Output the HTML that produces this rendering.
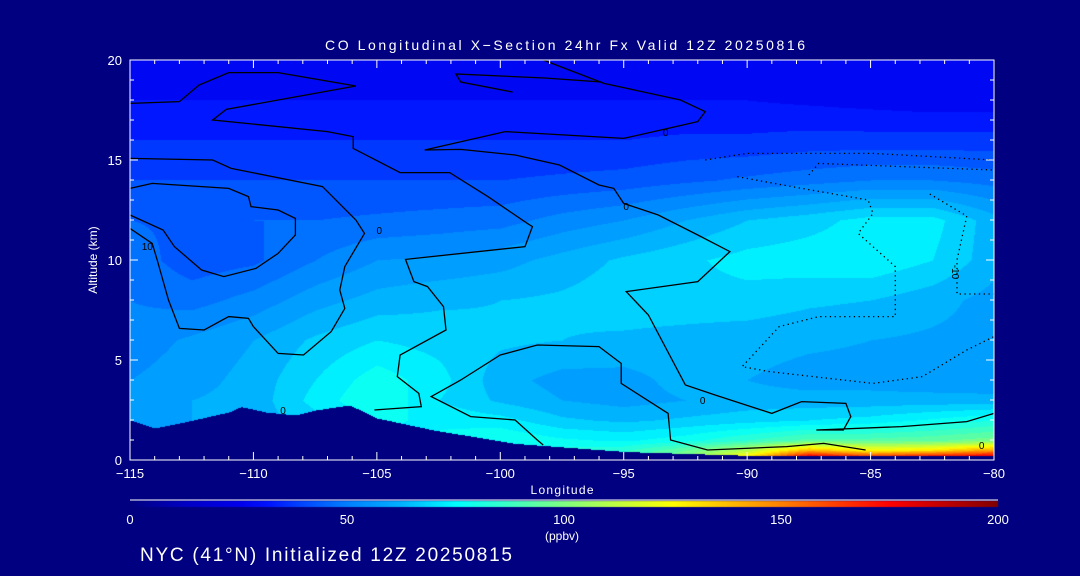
<!DOCTYPE html>
<html><head><meta charset="utf-8">
<style>
html,body{margin:0;padding:0;background:#000080;}
#wrap{position:relative;width:1080px;height:576px;background:#000080;overflow:hidden;font-family:"Liberation Sans",sans-serif;color:#fff;}
canvas,svg{position:absolute;left:0;top:0;}
</style></head>
<body>
<div id="wrap">
<canvas id="cv" width="1080" height="576"></canvas>
<svg id="sv" width="1080" height="576"></svg>
</div>
<script>
// ---- data ----
const lons = [-115,-112.5,-110,-107.5,-105,-102.5,-100,-97.5,-95,-92.5,-90,-87.5,-85,-82.5,-80];
const alts = [0.15,0.5,1,2,3,4,6,8,10,12,14,16,18,20];
const coValues = [
 [60,60,60,66,70,74,78,85,88,100,130,185,170,180,185],
 [60,60,60,66,70,74,76,82,84,95,110,140,125,130,145],
 [60,60,62,66,72,76,80,76,74,78,85,92,92,94,98],
 [58,60,62,68,76,74,72,66,64,66,68,70,72,76,80],
 [55,60,62,72,80,70,64,60,58,60,62,62,62,62,62],
 [55,58,62,70,78,72,62,58,58,62,60,58,58,57,56],
 [52,56,60,66,70,68,66,65,64,63,62,61,60,59,58],
 [50,48,52,58,62,64,65,66,68,68,68,66,65,62,58],
 [48,42,44,50,55,56,58,62,66,69,72,73,74,70,62],
 [45,44,45,45,46,47,48,52,55,60,65,68,72,72,62],
 [40,40,40,40,40,40,40,41,42,44,46,48,50,50,48],
 [35,35,35,35,35,35,35,35,35,36,36,37,37,37,37],
 [30,30,30,30,30,30,30,30,30,30,30,29,28,27,27],
 [27,27,27,27,27,27,27,27,27,27,27,27,27,27,27]
];
const terrLon = [-115,-114,-112.8,-111,-110.5,-109.5,-108.3,-107.5,-106.1,-105,-102.7,-99.4,-94.9,-90.4,-80];
const terrAlt = [2.0,1.6,1.9,2.4,2.67,2.4,2.25,2.5,2.75,2.1,1.5,0.83,0.42,0.25,0.2];
const contourA = [[-98.26,20],[-95.8,18.83],[-92.7,18],[-91.7,17.42],[-92,16.92],[-93.2,16.58],[-95,16.08],[-99.8,16.42],[-103.06,15.5],[-101.6,15.53],[-99.4,15.25],[-97.6,14.75],[-96,13.75],[-95.4,13.58],[-95,12.83],[-93.6,12.25],[-92,11.25],[-90.7,10.42],[-92,8.92],[-94.9,8.42],[-94,7.25],[-92.5,3.75],[-91.3,3.25],[-89,2.33],[-87.8,2.92],[-86,2.83],[-85.8,2.17],[-86.1,1.5],[-87.2,1.5],[-83.75,1.67],[-81.1,1.92],[-80,2.33]];
const contourC = [[-115,17.83],[-113,17.92],[-112.2,18.75],[-111,19.37],[-109,19.37],[-105.85,18.7],[-111.1,17.53],[-111.65,17],[-107,16.42],[-105.96,16.17],[-105.96,15.58],[-104.06,14.37],[-102.05,14.37],[-100.5,13.17],[-98.9,11.83],[-98.7,11.67],[-99,10.67],[-103.84,10.03],[-103.5,8.92],[-102.95,8.67],[-102.3,7.67],[-102.2,6.5],[-104.06,5.25],[-104.17,4.17],[-103.3,3.33],[-103.2,2.67],[-105.1,2.5]];
const contourD = [[-115,15.08],[-111.65,15],[-110.9,14.58],[-107.2,13.67],[-105.85,12],[-105.5,11.33],[-106.3,9.67],[-106.5,8.5],[-106.3,7.58],[-106.85,6.42],[-107.97,5.25],[-109,5.33],[-110,6.67],[-110.2,7.08],[-111,7.17],[-112,6.5],[-113,6.58],[-113.44,8],[-113.9,10],[-114.1,10.83],[-115,11.58]];
const contourE = [[-115,13.58],[-114.1,13.83],[-111,13.58],[-110.2,13.17],[-110.1,12.67],[-109,12.5],[-108.3,12.08],[-108.3,11.25],[-109,10.33],[-109.9,9.58],[-111.2,9.17],[-112.1,9.5],[-113.2,10.67],[-113.66,11.5],[-115,12.25]];
const contourF = [[-98.26,0.75],[-98.5,1],[-99.4,2],[-101.2,2.17],[-102.8,3.17],[-101.6,4],[-100,5.25],[-98.5,5.75],[-96,5.67],[-95.1,4.83],[-95.1,3.83],[-93.2,2.33],[-93.1,1],[-91.6,0.5],[-88.4,0.67],[-86.9,0.83],[-85.2,0.5]];
const contourG = [[-99.5,18.4],[-101.6,18.9],[-101.8,19.3],[-98.2,19.1],[-95.9,18.9]];
const dotted1 = [[-91.7,15],[-90,15.33],[-84.9,15.33],[-80,15]];
const dotted2 = [[-87.5,14.25],[-87.1,14.83],[-83.75,14.67],[-80,14.5]];
const dotted3 = [[-90.4,14.17],[-88.2,13.67],[-85.1,13],[-84.9,12.33],[-85.5,11.33],[-84,9.67],[-84,7.17],[-87.1,7.17],[-88.7,6.67],[-90.2,4.67],[-89.1,4.42],[-84.9,3.83],[-82.9,4.17],[-81.1,5.5],[-80,6.17]];
const dotted4 = [[-82.6,13.3],[-81.1,12.2],[-81.5,10],[-81.5,8.3],[-80,8.3]];
const xTicks = [-115,-110,-105,-100,-95,-90,-85,-80];
const yTicks = [0,5,10,15,20];
const cbTicks = [0,50,100,150,200];

// ---- axes ----
const PX0=130, PX1=994, PY0=60, PY1=460;
const xs = l => PX0 + (l+115)/35*(PX1-PX0);
const ys = a => PY1 - a/20*(PY1-PY0);
const stops=[[0,[0,0,128]],[12,[0,0,192]],[25,[0,0,235]],[32,[0,20,255]],[40,[0,72,255]],[50,[0,128,255]],[62,[0,176,255]],[75,[0,255,255]],[88,[64,255,192]],[100,[128,255,128]],[112,[192,255,64]],[125,[255,255,0]],[137,[255,192,0]],[150,[255,128,0]],[162,[255,64,0]],[175,[255,0,0]],[200,[128,0,0]]];
function cmap(v){v=Math.max(0,Math.min(200,v));for(let i=1;i<stops.length;i++){if(v<=stops[i][0]){const a=stops[i-1],b=stops[i],t=(v-a[0])/(b[0]-a[0]);return a[1].map((c,k)=>Math.round(c+(b[1][k]-c)*t));}}return stops[stops.length-1][1];}
function interp1(xa,ya,x){if(x<=xa[0])return ya[0];for(let i=1;i<xa.length;i++)if(x<=xa[i]){const t=(x-xa[i-1])/(xa[i]-xa[i-1]);return ya[i-1]+(ya[i]-ya[i-1])*t;}return ya[ya.length-1];}
function field(lon,alt){
  let j=0;while(j<lons.length-2&&lon>lons[j+1])j++;
  let i=0;while(i<alts.length-2&&alt>alts[i+1])i++;
  const tx=Math.max(0,Math.min(1,(lon-lons[j])/(lons[j+1]-lons[j])));
  const ty=Math.max(0,Math.min(1,(alt-alts[i])/(alts[i+1]-alts[i])));
  const a=coValues[i][j],b=coValues[i][j+1],c=coValues[i+1][j],d=coValues[i+1][j+1];
  return (a*(1-tx)+b*tx)*(1-ty)+(c*(1-tx)+d*tx)*ty;
}
const cv=document.getElementById('cv'),ctx=cv.getContext('2d');
const img=ctx.createImageData(PX1-PX0,PY1-PY0);
for(let py=0;py<PY1-PY0;py++){for(let px=0;px<PX1-PX0;px++){
  const lon=-115+px/(PX1-PX0)*35, alt=(PY1-PY0-py)/(PY1-PY0)*20;
  const ter=interp1(terrLon,terrAlt,lon);
  let col;
  if(alt<ter) col=[0,0,128];
  else {let v=field(lon,alt);v=Math.floor(v/5)*5+2.5;col=cmap(v);}
  const k=(py*(PX1-PX0)+px)*4;img.data[k]=col[0];img.data[k+1]=col[1];img.data[k+2]=col[2];img.data[k+3]=255;}}
ctx.putImageData(img,PX0,PY0);
for(let x=130;x<998;x++){const c=cmap((x-130)/868*200);ctx.fillStyle=`rgb(${c})`;ctx.fillRect(x,501,1,6);}

const NS='http://www.w3.org/2000/svg',sv=document.getElementById('sv');
function mk(tag,attrs,parent){const e=document.createElementNS(NS,tag);for(const k in attrs)e.setAttribute(k,attrs[k]);(parent||sv).appendChild(e);return e;}
function txt(s,x,y,size,anchor,name,extra){const t=mk('text',Object.assign({x:x,y:y,'font-size':size,'text-anchor':anchor||'middle',fill:'#fff','font-family':'Liberation Sans, sans-serif'},extra||{}));t.textContent=s;


return t;}
function line(pts,name,dash){const p=mk('polyline',{points:pts.map(q=>xs(q[0]).toFixed(1)+','+ys(q[1]).toFixed(1)).join(' '),fill:'none',stroke:'#000','stroke-width':1.3});if(dash)p.setAttribute('stroke-dasharray','1.3,3.5');

}
line(contourA,'contour-zero-center');
line(contourC,'contour-zero-west');
line(contourD,'contour-west-outer');
line(contourE,'contour-loop-west');
line(contourF,'contour-lower-center');
line(contourG,'contour-top-loop');
line(dotted1,'contour-negative-1',true);
line(dotted2,'contour-negative-2',true);
line(dotted3,'contour-negative-3',true);
line(dotted4,'contour-negative-4',true);
const lbl={fill:'#000'};
txt('0',xs(-93.3),ys(16.4)+4,10,'middle','contour-label',lbl);
txt('0',xs(-94.9),ys(12.7)+4,10,'middle','contour-label',lbl);
txt('0',xs(-104.9),ys(11.5)+4,10,'middle','contour-label',lbl);
txt('0',xs(-91.8),ys(3)+4,10,'middle','contour-label',lbl);
txt('0',xs(-108.8),ys(2.5)+4,10,'middle','contour-label',lbl);
txt('10',xs(-114.3),ys(10.7)+4,10,'middle','contour-label',lbl);
txt('-10',xs(-81.7),ys(9.4),10,'middle','contour-label',Object.assign({transform:`rotate(90 ${xs(-81.7)} ${ys(9.4)})`},lbl));
txt('0',xs(-80.5),ys(0.75)+4,10,'middle','contour-label',lbl);

const fr=mk('rect',{x:PX0,y:PY0,width:PX1-PX0,height:PY1-PY0,fill:'none',stroke:'#fff','stroke-width':1});


for(let l=-115;l<=-80;l++){const maj=(l%5===0);const x=xs(l);
  mk('line',{x1:x,x2:x,y1:PY1,y2:PY1-(maj?8:4),stroke:'#fff'});
  mk('line',{x1:x,x2:x,y1:PY0,y2:PY0+(maj?8:4),stroke:'#fff'});}
for(let a=0;a<=20;a++){const maj=(a%5===0);const y=ys(a);
  mk('line',{x1:PX0,x2:PX0+(maj?8:4),y1:y,y2:y,stroke:'#fff'});
  mk('line',{x1:PX1,x2:PX1-(maj?8:4),y1:y,y2:y,stroke:'#fff'});}
xTicks.forEach(v=>txt(String(v).replace('-','\u2212'),xs(v),478,13,'middle','x-tick-label'));
yTicks.forEach(v=>txt(String(v),122,ys(v)+5,13,'end','y-tick-label'));
txt('Longitude',562,494,12,'middle','x-axis-title',{textLength:63});
txt('Altitude (km)',97,260,12,'middle','y-axis-title',{transform:'rotate(-90 97 260)'});
txt('CO Longitudinal X\u2212Section 24hr  Fx Valid 12Z 20250816',565,50,14,'middle','chart-title',{textLength:480,lengthAdjust:'spacing'});
mk('line',{x1:130,x2:998,y1:500,y2:500,stroke:'#fff'});
cbTicks.forEach(v=>txt(String(v),130+v/200*868,524,13,'middle','colorbar-tick-label'));
txt('(ppbv)',562,540,12,'middle','colorbar-unit');
txt('NYC (41\u00b0N) Initialized 12Z 20250815',140,561,19,'start','station-caption',{textLength:372,lengthAdjust:'spacing'});
</script>
</body></html>
